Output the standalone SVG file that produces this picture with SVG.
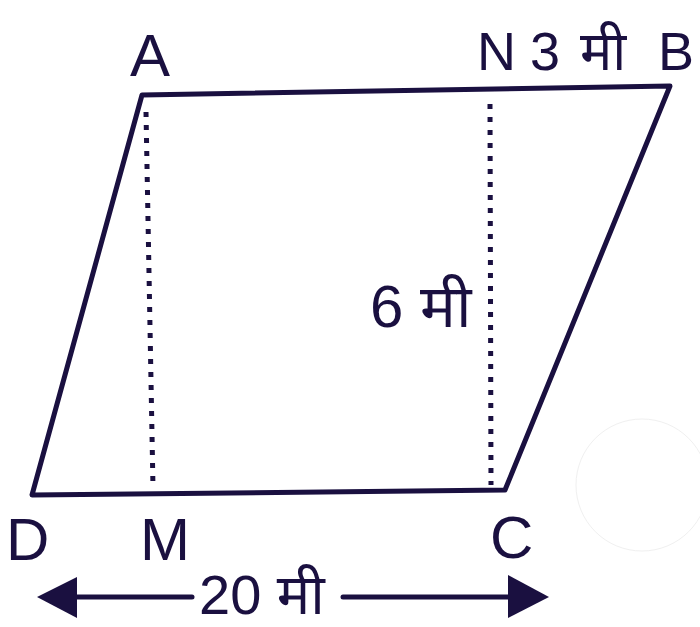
<svg xmlns="http://www.w3.org/2000/svg" width="700" height="627" viewBox="0 0 700 627">
<defs>
<style>
.ln{stroke:#1a1040;stroke-width:5;fill:none;stroke-linecap:round;stroke-linejoin:round}
.dot{stroke:#1a1040;stroke-width:5;fill:none;stroke-dasharray:5 8}
.t{font-family:"Liberation Sans","Noto Sans","Noto Sans Devanagari",sans-serif;fill:#1a1040;font-size:60px}
.s{font-size:54px}
.ah{fill:#1a1040}
</style>
</defs>
<rect width="700" height="627" fill="#fff"/>
<circle cx="642" cy="485" r="66" fill="none" stroke="#f0f0f0" stroke-width="1"/>
<g id="connectors">
<path class="ln" d="M142,95 L670,86 L505,490 L32,495 Z"/>
<path class="dot" d="M146,112 L153,488"/>
<path class="dot" d="M490,104 L491,485"/>
<path class="ln" d="M77,597 L192,597"/>
<path class="ln" d="M343,597 L510,597"/>
<polygon class="ah" points="37,597 77,577 77,618"/>
<polygon class="ah" points="549,597 508,575 508,618"/>
</g>
<g id="A"><text class="t" x="150" y="76" text-anchor="middle">A</text></g>
<g id="N"><text class="t s" x="477" y="70">N</text></g>
<g id="n3"><text class="t s" x="530" y="70">3</text></g>
<g id="nmi"><text class="t s" x="580" y="70">मी</text></g>
<g id="B"><text class="t s" x="658" y="70">B</text></g>
<g id="D"><text class="t" x="6" y="560">D</text></g>
<g id="M"><text class="t" x="140" y="560">M</text></g>
<g id="C"><text class="t" x="490" y="558">C</text></g>
<g id="h"><text class="t" x="370" y="327">6 मी</text></g>
<g id="base"><text class="t" x="199" y="614" style="font-size:56px">20 मी</text></g>
</svg>
